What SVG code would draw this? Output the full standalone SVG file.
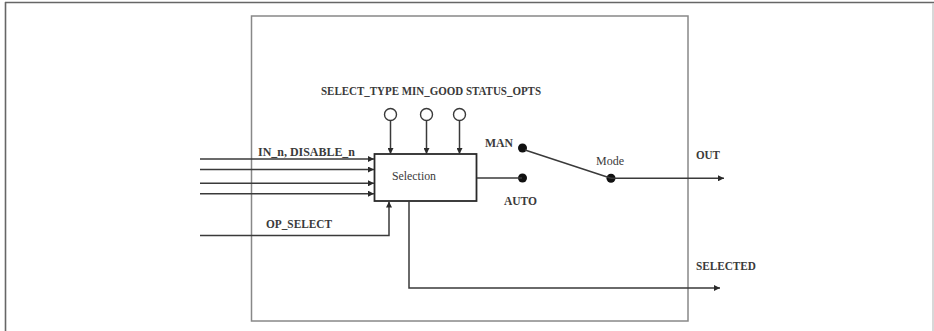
<svg xmlns="http://www.w3.org/2000/svg" width="934" height="331" viewBox="0 0 934 331">
<style>
.t{font-family:"Liberation Serif","Times New Roman",serif;font-size:12px;font-weight:bold;fill:#3a3a3a}
.n{font-family:"Liberation Serif","Times New Roman",serif;font-size:12px;fill:#3a3a3a}
.ln{stroke:#3a3a3a;stroke-width:1.5;fill:none}
</style>
<defs>
<marker id="ah" viewBox="0 0 6 6" refX="6" refY="3" markerWidth="6" markerHeight="6" markerUnits="userSpaceOnUse" orient="auto">
<path d="M0,0 L6,3 L0,6 z" fill="#2a2a2a"/>
</marker>
</defs>
<rect width="934" height="331" fill="#fff"/>
<g id="frame">
<line x1="5" y1="2.5" x2="934" y2="2.5" stroke="#666" stroke-width="1.6"/>
<line x1="5.5" y1="2" x2="5.5" y2="331" stroke="#666" stroke-width="1.6"/>
<line x1="933" y1="3" x2="933" y2="331" stroke="#c8c8c8" stroke-width="1.4"/>
</g>
<g id="block">
<rect x="251.5" y="16" width="436.5" height="305" fill="none" stroke="#888" stroke-width="1.5"/>
</g>
<g id="selection">
<rect x="374.5" y="154" width="102" height="47" fill="#fff" stroke="#2a2a2a" stroke-width="1.8"/>
<text class="n" x="414" y="180" text-anchor="middle" textLength="44" lengthAdjust="spacingAndGlyphs">Selection</text>
</g>
<g id="params">
<circle cx="390.5" cy="114.5" r="6" fill="#fff" stroke="#3a3a3a" stroke-width="1.4"/>
<circle cx="426.5" cy="114.5" r="6" fill="#fff" stroke="#3a3a3a" stroke-width="1.4"/>
<circle cx="459.5" cy="114.5" r="6" fill="#fff" stroke="#3a3a3a" stroke-width="1.4"/>
<text class="t" x="321" y="95" textLength="220" lengthAdjust="spacingAndGlyphs">SELECT_TYPE MIN_GOOD STATUS_OPTS</text>
</g>
<g id="switch">
<circle cx="522.5" cy="148" r="4.5" fill="#111"/>
<circle cx="522.5" cy="178" r="4.5" fill="#111"/>
<circle cx="611" cy="178.3" r="4.5" fill="#111"/>
<text class="t" x="485" y="147" textLength="28" lengthAdjust="spacingAndGlyphs">MAN</text>
<text class="t" x="504" y="205" textLength="33" lengthAdjust="spacingAndGlyphs">AUTO</text>
<text class="n" x="596" y="165" textLength="28" lengthAdjust="spacingAndGlyphs">Mode</text>
</g>
<g id="labels">
<text class="t" x="258" y="156" textLength="97" lengthAdjust="spacingAndGlyphs">IN_n, DISABLE_n</text>
<text class="t" x="266" y="228" textLength="66" lengthAdjust="spacingAndGlyphs">OP_SELECT</text>
<text class="t" x="696" y="159" textLength="24" lengthAdjust="spacingAndGlyphs">OUT</text>
<text class="t" x="696" y="270" textLength="60" lengthAdjust="spacingAndGlyphs">SELECTED</text>
</g>
<g id="connectors">
<line class="ln" x1="200" y1="159" x2="374" y2="159" marker-end="url(#ah)"/>
<line class="ln" x1="200" y1="169.5" x2="374" y2="169.5" marker-end="url(#ah)"/>
<line class="ln" x1="200" y1="183.3" x2="374" y2="183.3" marker-end="url(#ah)"/>
<line class="ln" x1="200" y1="193.7" x2="374" y2="193.7" marker-end="url(#ah)"/>
<polyline class="ln" points="200,235.5 389,235.5 389,201.5" marker-end="url(#ah)"/>
<line class="ln" x1="390.5" y1="120.5" x2="390.5" y2="154" marker-end="url(#ah)"/>
<line class="ln" x1="426.5" y1="120.5" x2="426.5" y2="154" marker-end="url(#ah)"/>
<line class="ln" x1="459.5" y1="120.5" x2="459.5" y2="154" marker-end="url(#ah)"/>
<line class="ln" x1="477" y1="178" x2="522" y2="178"/>
<line class="ln" x1="525" y1="150" x2="611" y2="178.3"/>
<line class="ln" x1="611" y1="178.3" x2="724" y2="178.3" marker-end="url(#ah)"/>
<polyline class="ln" points="409,201 409,288 720,288" marker-end="url(#ah)"/>
</g>
</svg>
